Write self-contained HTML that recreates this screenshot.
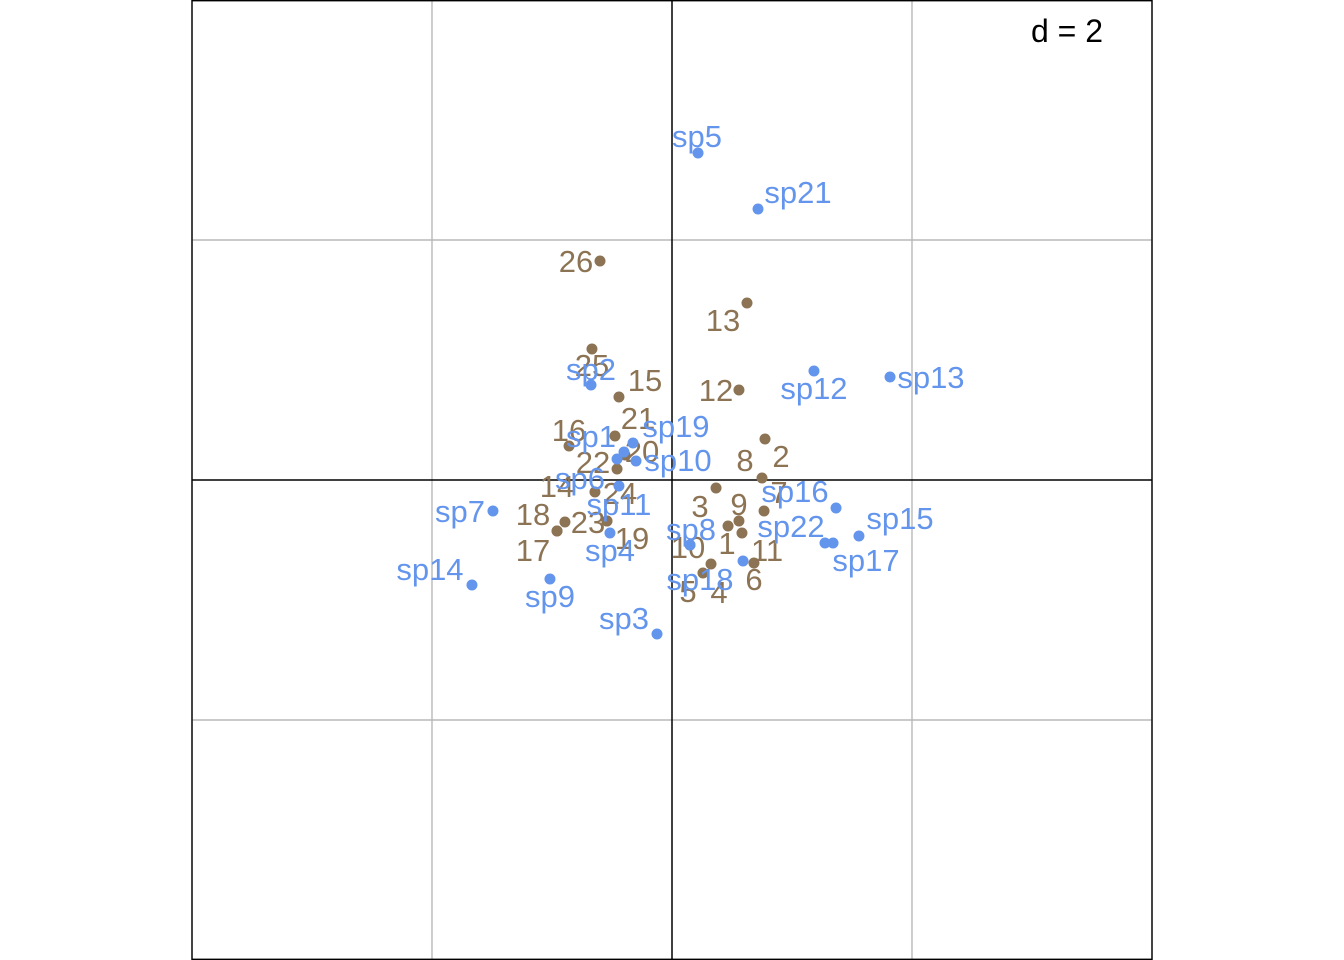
<!DOCTYPE html>
<html><head><meta charset="utf-8"><style>
html,body{margin:0;padding:0;background:#fff;}
svg{display:block;font-family:"Liberation Sans",sans-serif;}
</style></head><body>
<svg id="chart" width="1344" height="960" viewBox="0 0 1344 960" xmlns="http://www.w3.org/2000/svg"></svg>
<script>
// data (units; 1 grid = 2)
const siteNames = ["26","13","25","15","12","21","16","2","22","20","8","7","14","24","23","18","17","19","3","9","1","10","11","6","5","4"];
const siteX = [-0.6,0.625,-0.667,-0.442,0.558,-0.475,-0.858,0.775,-0.458,-0.392,0.75,0.767,-0.642,-0.542,-0.892,-0.958,-0.958,-0.542,0.367,0.558,0.467,0.15,0.583,0.683,0.258,0.325];
const siteY = [1.825,1.475,1.092,0.692,0.75,0.367,0.283,0.342,0.092,0.208,0.017,-0.258,-0.1,-0.342,-0.35,-0.425,-0.425,-0.342,-0.067,-0.342,-0.383,-0.542,-0.442,-0.692,-0.775,-0.7];
const siteLabX = [-0.8,0.425,-0.667,-0.225,0.367,-0.283,-0.858,0.908,-0.658,-0.25,0.608,0.892,-0.958,-0.433,-0.7,-1.158,-1.158,-0.333,0.233,0.558,0.458,0.133,0.792,0.683,0.133,0.392];
const siteLabY = [1.817,1.325,0.95,0.825,0.742,0.508,0.408,0.192,0.142,0.233,0.158,-0.108,-0.058,-0.117,-0.358,-0.292,-0.592,-0.492,-0.225,-0.208,-0.533,-0.567,-0.592,-0.833,-0.933,-0.942];
const spNames = ["sp5","sp21","sp13","sp12","sp2","sp19","sp1","sp6","sp10","sp11","sp4","sp7","sp14","sp9","sp3","sp8","sp18","sp16","sp22","sp17","sp15"];
const spX = [0.217,0.717,1.817,1.183,-0.675,-0.325,-0.4,-0.458,-0.3,-0.442,-0.517,-1.492,-1.667,-1.017,-0.125,0.15,0.592,1.367,1.275,1.342,1.558];
const spY = [2.725,2.258,0.858,0.908,0.792,0.308,0.233,0.175,0.158,-0.05,-0.442,-0.258,-0.875,-0.825,-1.283,-0.542,-0.675,-0.233,-0.525,-0.525,-0.467];
const spLabX = [0.208,1.05,2.158,1.183,-0.675,0.033,-0.675,-0.767,0.05,-0.442,-0.517,-1.767,-2.017,-1.017,-0.4,0.158,0.233,1.025,0.992,1.617,1.9];
const spLabY = [2.858,2.392,0.85,0.758,0.917,0.442,0.358,0.008,0.158,-0.208,-0.592,-0.267,-0.75,-0.975,-1.158,-0.417,-0.833,-0.1,-0.392,-0.675,-0.325];
const gridTicks = [-4,-2,0,2,4];

const svg = document.getElementById('chart');
const NS = 'http://www.w3.org/2000/svg';
const sx = v => 672 + v*120;
const sy = v => 480 - v*120;
function mk(tag, attrs){const e=document.createElementNS(NS,tag);for(const k in attrs)e.setAttribute(k,attrs[k]);svg.appendChild(e);return e;}

gridTicks.forEach(t=>{
  if(t===0) return;
  const a=mk('line',{x1:sx(t),x2:sx(t),y1:sy(4),y2:sy(-4),stroke:'#b8b8b8','stroke-width':1.4});
  
  
  const b=mk('line',{x1:sx(-4),x2:sx(4),y1:sy(t),y2:sy(t),stroke:'#b8b8b8','stroke-width':1.4});
  
  
});
const ax=mk('line',{x1:sx(0),x2:sx(0),y1:sy(4),y2:sy(-4),stroke:'#000','stroke-width':1.5});


const ay=mk('line',{x1:sx(-4),x2:sx(4),y1:sy(0),y2:sy(0),stroke:'#000','stroke-width':1.5});


const fr=mk('rect',{x:sx(-4),y:sy(4)+0.7,width:960,height:958.6,fill:'none',stroke:'#000','stroke-width':1.4});


const dl=mk('text',{x:1103,y:42,'font-size':32,'text-anchor':'end',fill:'#000'});
dl.textContent='d = 2';



function drawSet(names,X,Y,LX,LY,col,kind){
  names.forEach((n,i)=>{
    const c=mk('circle',{cx:sx(X[i]),cy:sy(Y[i]),r:5.5,fill:col});
    
    
  });
  names.forEach((n,i)=>{
    const t=mk('text',{x:sx(LX[i]),y:sy(LY[i])+10,'font-size':31,'text-anchor':'middle',fill:col});
    t.textContent=n;
    
    
  });
}
drawSet(siteNames,siteX,siteY,siteLabX,siteLabY,'#8c7354','site');
drawSet(spNames,spX,spY,spLabX,spLabY,'#6495ed','species');
</script>
</body></html>
